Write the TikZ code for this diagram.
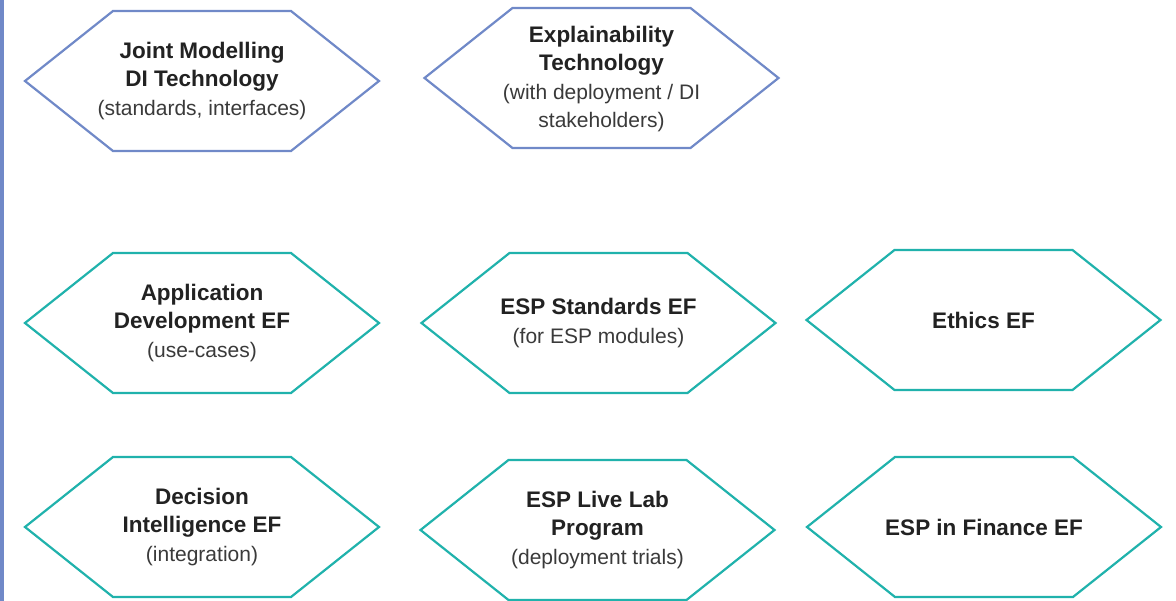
\documentclass[tikz,border=0pt]{standalone}
\usepackage{fontspec}
\setmainfont{Liberation Sans}
\definecolor{hexblue}{HTML}{7089C8}
\definecolor{hexteal}{HTML}{20B2AC}
\definecolor{titlec}{HTML}{222222}
\definecolor{subc}{HTML}{3A3A3A}
\newcommand{\bt}[1]{{\fontsize{22.5}{28.5}\selectfont\bfseries #1}}
\newcommand{\st}[1]{{\fontsize{21}{28.5}\selectfont\color{subc}#1}}
\begin{document}
\begin{tikzpicture}[x=1pt,y=-1pt,
  hexline/.style={line width=2.2pt, line join=miter},
  bluehex/.style={hexline, draw=hexblue, fill=white},
  tealhex/.style={hexline, draw=hexteal, fill=white},
  label/.style={align=center, inner sep=0pt, text=titlec,
    font=\fontsize{21}{28.5}\selectfont},
]
\useasboundingbox (0,0) rectangle (1176,601);
\fill[hexblue] (0,0) rectangle (4,601);
% hexagon helper: half width 177, half height 70, inset 88
\def\hexpath#1#2{(#1-177,#2) -- (#1-89,#2-70) -- (#1+89,#2-70) -- (#1+177,#2) -- (#1+89,#2+70) -- (#1-89,#2+70) -- cycle}
\path[bluehex] \hexpath{202}{81};
\path[bluehex] \hexpath{601.5}{78};
\path[tealhex] \hexpath{202}{323};
\path[tealhex] \hexpath{598.5}{323};
\path[tealhex] \hexpath{983.5}{320};
\path[tealhex] \hexpath{202}{527};
\path[tealhex] \hexpath{597.5}{530};
\path[tealhex] \hexpath{984}{527};

\node[label] (jm) at (202,81) {\bt{Joint Modelling}\\\bt{DI Technology}\\\st{(standards, interfaces)}};
\node[label] (ex) at (601.5,79) {\bt{Explainability}\\\bt{Technology}\\\st{(with deployment / DI}\\\st{stakeholders)}};
\node[label] (ad) at (202,323) {\bt{Application}\\\bt{Development EF}\\\st{(use-cases)}};
\node[label] (es) at (598.5,323) {\bt{ESP Standards EF}\\\st{(for ESP modules)}};
\node[label] (et) at (983.5,320) {\bt{Ethics EF}};
\node[label] (di) at (202,527) {\bt{Decision}\\\bt{Intelligence EF}\\\st{(integration)}};
\node[label] (ll) at (597.5,530) {\bt{ESP Live Lab}\\\bt{Program}\\\st{(deployment trials)}};
\node[label] (fi) at (984,527) {\bt{ESP in Finance EF}};
\end{tikzpicture}
\end{document}
